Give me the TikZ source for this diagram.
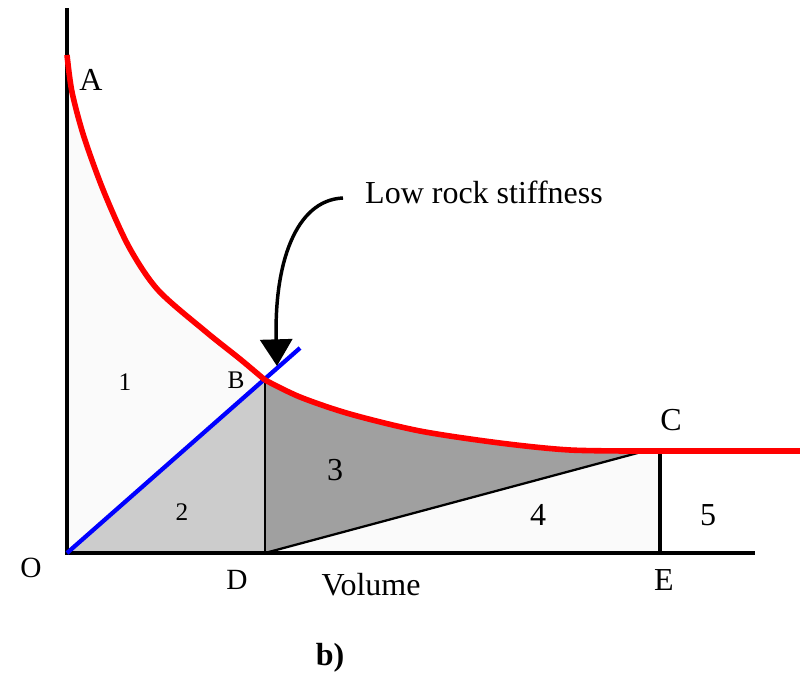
\documentclass[tikz,border=0pt]{standalone}
\usepackage{fontspec}
\setmainfont{Liberation Serif}
\usetikzlibrary{arrows.meta}
\definecolor{zoneone}{HTML}{FAFAFA}
\definecolor{zonetwo}{HTML}{CCCCCC}
\definecolor{zonethree}{HTML}{A0A0A0}
\tikzset{
  axisline/.style={line width=2.4pt, black},
  redcurve/.style={line width=4.2pt, red, line join=round},
  blueline/.style={line width=3.2pt, blue},
  edgeline/.style={line width=1.7pt, black},
  bigtext/.style={font=\fontsize{24}{27}\selectfont, inner sep=0pt},
  smalltext/.style={font=\fontsize{19}{21}\selectfont, inner sep=0pt},
  pointer/.style={-{Triangle[length=20pt, width=24pt]}, line width=2.6pt},
}
\newcommand\curveAB{(67,55) (72,92) (84,137) (104,192) (129,247) (158,290) (205,331) (240,359) (265,380)}
\newcommand\curveBC{(265,380) (300,397) (350,414) (420,431) (500,443) (570,450) (645,451)}

\begin{document}
\begin{tikzpicture}[x=0.75pt, y=-0.75pt]
  \useasboundingbox (0,0) rectangle (803,676);

  % points
  \coordinate (O) at (67,553);
  \coordinate (top) at (67,8);
  \coordinate (xend) at (755,553);
  \coordinate (B) at (265,380);
  \coordinate (Cp) at (645,451);
  \coordinate (C) at (660,451);
  \coordinate (D) at (265,553);
  \coordinate (E) at (660,553);
  \coordinate (bluetop) at (300,348);
  \coordinate (redend) at (800,451);

  % zones
  \fill[zoneone] (O) -- plot[smooth] coordinates {\curveAB} -- cycle;
  \fill[zonetwo] (O) -- (B) -- (D) -- cycle;
  \fill[zonethree] (D) -- plot[smooth] coordinates {\curveBC} -- cycle;
  \fill[zoneone] (D) -- (Cp) -- (C) -- (E) -- cycle;

  % lines
  \draw[edgeline] (B) -- (D);
  \draw[edgeline] (D) -- (Cp);
  \draw[line width=3.2pt] (C) -- (E);
  \draw[axisline] (top) -- (O) -- (xend);
  \draw[blueline] (O) -- (bluetop);
  \draw[redcurve] plot[smooth] coordinates {\curveAB};
  \draw[redcurve] plot[smooth] coordinates {\curveBC};
  \draw[redcurve] (Cp) -- (redend);

  % labels
  \node[bigtext] (lA) at (91,80) {A};
  \node[smalltext] (lB) at (236,380) {B};
  \node[bigtext] (lC) at (671,420) {C};
  \node[bigtext, font=\fontsize{22}{24}\selectfont] (lO) at (31,568) {O};
  \node[bigtext, font=\fontsize{22}{24}\selectfont] (lD) at (237,580) {D};
  \node[bigtext] (lE) at (664,580) {E};
  \node[bigtext] (vol) at (371,585) {Volume};
  \node[smalltext] (z1) at (125,382) {1};
  \node[smalltext] (z2) at (182,512) {2};
  \node[bigtext] (z3) at (335,470) {3};
  \node[bigtext] (z4) at (538,515) {4};
  \node[bigtext] (z5) at (708,515) {5};
  \node[bigtext, font=\bfseries\fontsize{24}{27}\selectfont] (cap) at (330,658) {b)};

  % pointer
  \node[bigtext] (note) at (484,192) {Low rock stiffness};
  \coordinate (tail) at (343,198);
  \coordinate (tip) at (277,366);
  \draw[pointer] (tail) .. controls (295,200) and (274,265) .. (tip);
\end{tikzpicture}
\end{document}
